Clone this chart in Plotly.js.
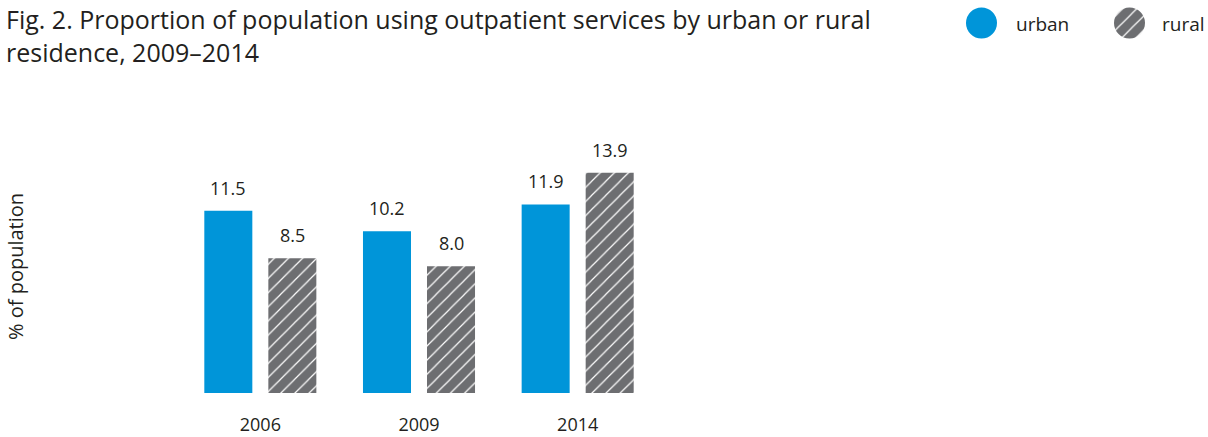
<!DOCTYPE html>
<html>
<head>
<meta charset="utf-8">
<script src="https://cdn.plot.ly/plotly-3.0.1.min.js"></script>
<style>html,body{margin:0;padding:0;background:#fff;}#chart{width:1208px;height:437px;}</style>
</head>
<body>
<div id="chart"></div>
<script>
// ---- data ----
const years = ["2006", "2009", "2014"];
const urban = [11.5, 10.2, 11.9];
const rural = [8.5, 8.0, 13.9];
const seriesNames = ["urban", "rural"];
const titleText = "Fig. 2. Proportion of population using outpatient services by urban or rural<br>residence, 2009–2014";
const yTitle = "% of population";

// ---- styles ----
const FONT = "Open Sans, Noto Sans, sans-serif";
const TXT = "#231f20";
const BLUE = "#0095d9";
const GREY = "#6d6e71";
const W = 1208, H = 437;

const hatch = {shape: "/", bgcolor: GREY, fgcolor: "#ffffff", size: 10, solidity: 0.12, fillmode: "replace"};

const traces = [
  {type: "bar", name: seriesNames[0], x: years, y: urban, marker: {color: BLUE}, showlegend: false, hoverinfo: "x+y"},
  {type: "bar", name: seriesNames[1], x: years, y: rural, marker: {color: GREY, pattern: hatch}, showlegend: false, hoverinfo: "x+y"},
  // legend swatches (single-slice pies draw circles)
  {type: "pie", values: [1], labels: [seriesNames[0]], marker: {colors: [BLUE]}, textinfo: "none", hoverinfo: "skip", showlegend: false, sort: false,
   domain: {x: [966 / W, 997 / W], y: [1 - 38.5 / H, 1 - 7.5 / H]}},
  {type: "pie", values: [1], labels: [seriesNames[1]], marker: {colors: [GREY], pattern: hatch}, textinfo: "none", hoverinfo: "skip", showlegend: false, sort: false,
   domain: {x: [1114 / W, 1145 / W], y: [1 - 38.5 / H, 1 - 7.5 / H]}}
];

// value labels, positioned through the category axis
const BARGAP = 0.193, GROUPGAP = 0.25;
const slot = (1 - BARGAP) / 2;
const annotations = [];
[urban, rural].forEach((vals, s) => {
  const off = (s - 0.5) * slot;
  vals.forEach((v, i) => {
    annotations.push({x: i + off, y: v, xref: "x", yref: "y", text: v.toFixed(1), showarrow: false,
      yanchor: "bottom", yshift: 9, font: {family: FONT, size: 18, color: TXT}});
  });
});
// legend labels
annotations.push({x: 1014 / W, y: 1 - 24 / H, xref: "paper", yref: "paper", xanchor: "left", yanchor: "middle", text: seriesNames[0], showarrow: false, font: {family: FONT, size: 19, color: TXT}});
annotations.push({x: 1160 / W, y: 1 - 24 / H, xref: "paper", yref: "paper", xanchor: "left", yanchor: "middle", text: seriesNames[1], showarrow: false, font: {family: FONT, size: 19, color: TXT}});
// y axis title
annotations.push({x: 15 / W, y: 1 - 267 / H, xref: "paper", yref: "paper", xanchor: "center", yanchor: "middle", textangle: -90, text: yTitle, showarrow: false, font: {family: FONT, size: 20, color: TXT}});

const layout = {
  width: W, height: H,
  margin: {l: 0, r: 0, t: 0, b: 0},
  paper_bgcolor: "#fff", plot_bgcolor: "#fff",
  showlegend: false,
  barmode: "group", bargap: BARGAP, bargroupgap: GROUPGAP,
  title: {text: titleText, x: 6 / W, xanchor: "left", xref: "paper", y: 1 - 29 / H, yanchor: "top", yref: "container",
    font: {family: FONT, size: 25, color: TXT}},
  xaxis: {domain: [181 / W, 657 / W], type: "category", showgrid: false, zeroline: false, showline: false, ticks: "",
    tickfont: {family: FONT, size: 18, color: TXT}, ticklabelstandoff: 19, fixedrange: true},
  yaxis: {domain: [1 - 393 / H, 1 - 139.4 / H], range: [0, 16], showgrid: false, zeroline: false, showline: false,
    showticklabels: false, ticks: "", fixedrange: true},
  annotations: annotations
};

Plotly.newPlot("chart", traces, layout, {displayModeBar: false, staticPlot: true});
</script>
</body>
</html>
